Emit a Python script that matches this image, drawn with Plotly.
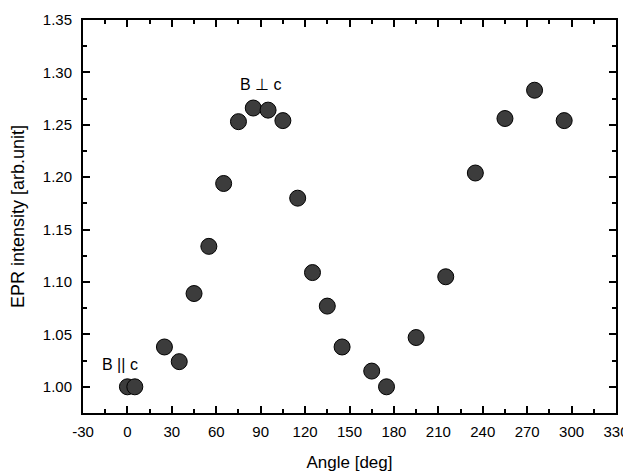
import plotly.graph_objects as go

angle = [0, 5, 25, 35, 45, 55, 65, 75, 85, 95, 105, 115, 125, 135, 145, 165, 175, 195, 215, 235, 255, 275, 295]
intensity = [1.000, 1.000, 1.038, 1.024, 1.089, 1.134, 1.194, 1.253, 1.266, 1.264, 1.254, 1.180,
             1.109, 1.077, 1.038, 1.015, 1.000, 1.047, 1.105, 1.204, 1.256, 1.283, 1.254]
x_ticks = list(range(-30, 331, 30))
y_ticks = [1.00, 1.05, 1.10, 1.15, 1.20, 1.25, 1.30, 1.35]
y_tick_labels = ["%.2f" % v for v in y_ticks]

FONT = "Liberation Sans, Arial, sans-serif"

fig = go.Figure()
fig.add_trace(go.Scatter(
    x=angle, y=intensity, mode="markers",
    marker=dict(size=16, color="#3c3c3c", line=dict(color="black", width=1)),
    showlegend=False,
))

fig.add_annotation(x=-5, y=1.021, text="B || c", showarrow=False,
                   font=dict(family=FONT, size=16, color="black"))
fig.add_annotation(x=90, y=1.288, text="B \u22a5 c", showarrow=False,
                   font=dict(family=FONT, size=16, color="black"))

axis_common = dict(
    showline=True, linecolor="black", linewidth=2, mirror="ticks",
    ticks="inside", ticklen=7, tickwidth=1.5, tickcolor="black",
    showgrid=False, zeroline=False, automargin=False,
    tickfont=dict(family=FONT, size=15, color="black"),
)

fig.update_xaxes(
    range=[-30, 330], tickmode="array", tickvals=x_ticks,
    ticktext=[str(v) for v in x_ticks], ticklabelstandoff=4,
    minor=dict(ticks="inside", ticklen=4, tickwidth=1.5, tickcolor="black", dtick=15, showgrid=False),
    title=dict(text="Angle [deg]", font=dict(family=FONT, size=17, color="black"), standoff=17),
    **axis_common,
)
fig.update_yaxes(
    range=[0.975, 1.35], tickmode="array", tickvals=y_ticks, ticktext=y_tick_labels,
    ticklabelstandoff=6,
    minor=dict(ticks="inside", ticklen=4, tickwidth=1.5, tickcolor="black", dtick=0.025, tick0=0.975, showgrid=False),
    title=dict(text="EPR intensity [arb.unit]", font=dict(family=FONT, size=18, color="black"), standoff=14),
    **axis_common,
)

# page body has an 8px default margin, so compensate in figure size/margins
fig.update_layout(
    width=623, height=466,
    margin=dict(l=75, r=15, t=12, b=61),
    plot_bgcolor="white", paper_bgcolor="white",
    font=dict(family=FONT, size=15, color="black"),
)

fig.write_html("out.html")
